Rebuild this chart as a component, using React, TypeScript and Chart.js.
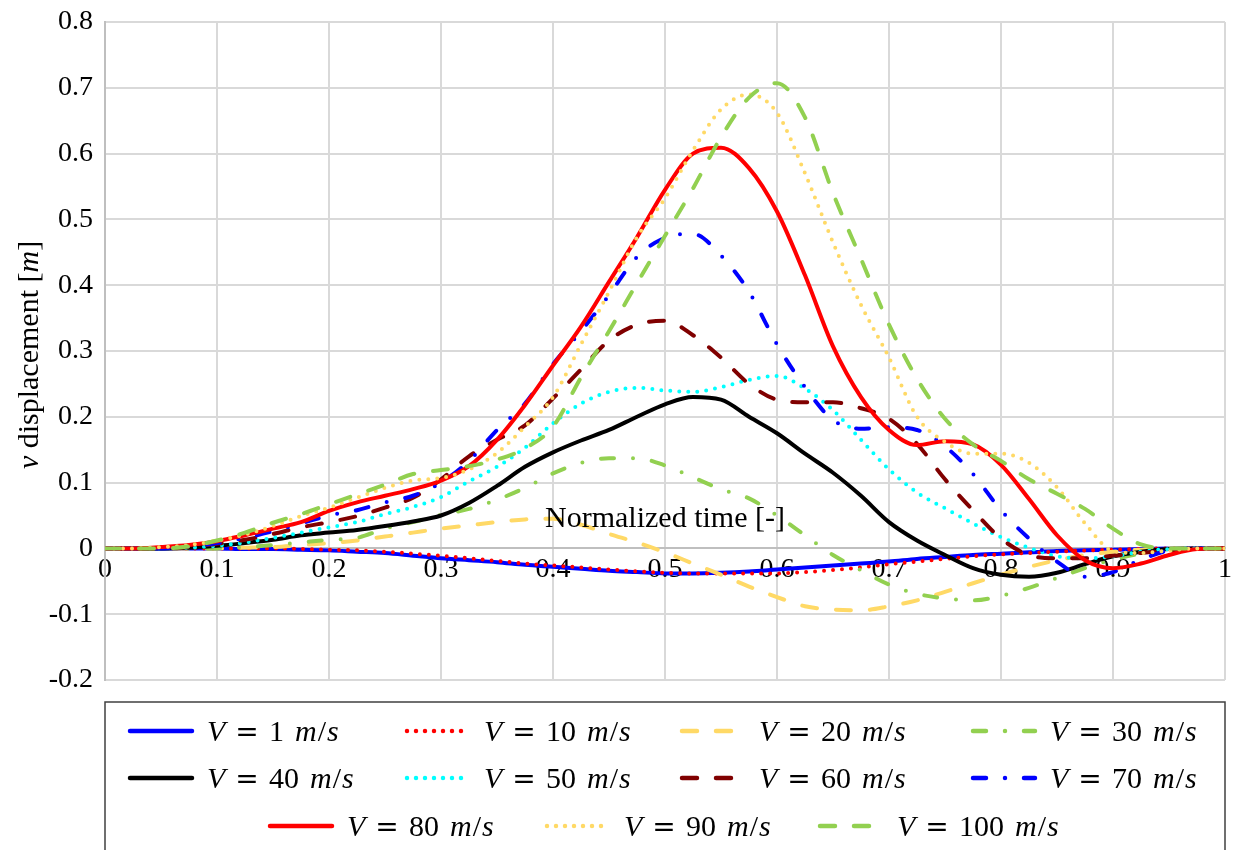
import React, { useEffect, useRef } from 'react';
import { Chart, registerables } from 'chart.js';

Chart.register(...registerables);

// ---------- data ----------
const TIME = [0, 0.025, 0.05, 0.075, 0.1, 0.125, 0.15, 0.175, 0.2, 0.225, 0.25, 0.275, 0.3, 0.325, 0.35, 0.375, 0.4, 0.425, 0.45, 0.475, 0.5, 0.525, 0.55, 0.575, 0.6, 0.625, 0.65, 0.675, 0.7, 0.725, 0.75, 0.775, 0.8, 0.825, 0.85, 0.875, 0.9, 0.925, 0.95, 0.975, 1];

const V_1 = [0, 0, 0, 0, 0, -0.001, -0.001, -0.002, -0.003, -0.005, -0.007, -0.011, -0.015, -0.018, -0.021, -0.025, -0.028, -0.031, -0.034, -0.036, -0.038, -0.038, -0.037, -0.035, -0.032, -0.029, -0.026, -0.023, -0.02, -0.016, -0.013, -0.01, -0.008, -0.006, -0.004, -0.003, -0.002, -0.001, 0, 0, 0];
const V_10 = [0, 0, 0, 0, 0, 0, 0, -0.001, -0.002, -0.003, -0.005, -0.008, -0.011, -0.015, -0.019, -0.023, -0.026, -0.029, -0.032, -0.035, -0.037, -0.038, -0.038, -0.038, -0.038, -0.036, -0.033, -0.029, -0.024, -0.02, -0.016, -0.012, -0.009, -0.007, -0.005, -0.003, -0.002, -0.001, 0, 0, 0];
const V_20 = [0, 0, 0, 0, 0, 0.001, 0.002, 0.005, 0.008, 0.012, 0.018, 0.024, 0.03, 0.035, 0.04, 0.044, 0.045, 0.036, 0.022, 0.009, -0.006, -0.023, -0.04, -0.058, -0.074, -0.088, -0.093, -0.094, -0.088, -0.079, -0.066, -0.053, -0.04, -0.028, -0.018, -0.01, -0.005, -0.002, 0, 0, 0];
const V_30 = [0, 0, 0, 0, 0, 0.002, 0.005, 0.009, 0.013, 0.016, 0.03, 0.04, 0.051, 0.06, 0.074, 0.092, 0.114, 0.13, 0.137, 0.137, 0.126, 0.108, 0.09, 0.076, 0.05, 0.02, -0.01, -0.033, -0.055, -0.069, -0.076, -0.079, -0.072, -0.06, -0.045, -0.03, -0.017, -0.008, -0.003, 0, 0];
const V_40 = [0, 0, 0, 0.001, 0.004, 0.008, 0.013, 0.02, 0.024, 0.028, 0.034, 0.041, 0.05, 0.069, 0.095, 0.124, 0.146, 0.164, 0.18, 0.2, 0.219, 0.23, 0.226, 0.2, 0.175, 0.144, 0.115, 0.08, 0.04, 0.012, -0.01, -0.03, -0.04, -0.043, -0.037, -0.024, -0.012, -0.005, -0.001, 0, 0];
const V_50 = [0, 0, 0, 0.001, 0.004, 0.009, 0.016, 0.024, 0.032, 0.04, 0.052, 0.063, 0.078, 0.102, 0.124, 0.153, 0.19, 0.22, 0.238, 0.244, 0.24, 0.238, 0.245, 0.256, 0.262, 0.243, 0.21, 0.165, 0.12, 0.085, 0.061, 0.038, 0.017, 0.001, -0.012, -0.015, -0.012, -0.005, -0.001, 0, 0];
const V_60 = [0, 0, 0, 0.002, 0.007, 0.013, 0.022, 0.032, 0.04, 0.049, 0.062, 0.077, 0.105, 0.14, 0.165, 0.187, 0.228, 0.272, 0.316, 0.34, 0.346, 0.324, 0.29, 0.25, 0.226, 0.222, 0.222, 0.213, 0.197, 0.159, 0.105, 0.058, 0.015, -0.01, -0.015, -0.015, -0.011, -0.007, -0.003, 0, 0];
const V_70 = [0, 0, 0, 0.003, 0.008, 0.016, 0.026, 0.038, 0.05, 0.058, 0.07, 0.08, 0.1, 0.133, 0.18, 0.22, 0.28, 0.33, 0.385, 0.443, 0.472, 0.478, 0.445, 0.39, 0.31, 0.245, 0.195, 0.182, 0.184, 0.18, 0.155, 0.113, 0.058, 0.015, -0.02, -0.043, -0.036, -0.017, -0.003, 0, 0];
const V_80 = [0, 0, 0.002, 0.005, 0.011, 0.02, 0.03, 0.04, 0.057, 0.07, 0.08, 0.09, 0.103, 0.125, 0.165, 0.218, 0.278, 0.337, 0.405, 0.473, 0.545, 0.6, 0.609, 0.578, 0.512, 0.415, 0.307, 0.23, 0.18, 0.157, 0.163, 0.158, 0.127, 0.075, 0.02, -0.018, -0.03, -0.023, -0.01, -0.001, 0];
const V_90 = [0, 0, 0.002, 0.005, 0.012, 0.021, 0.034, 0.049, 0.062, 0.077, 0.092, 0.103, 0.107, 0.12, 0.145, 0.185, 0.23, 0.31, 0.39, 0.473, 0.532, 0.605, 0.667, 0.69, 0.662, 0.57, 0.465, 0.37, 0.29, 0.2, 0.162, 0.144, 0.144, 0.13, 0.093, 0.038, -0.004, -0.007, -0.003, 0, 0];
const V_100 = [0, 0, 0, 0.003, 0.012, 0.024, 0.039, 0.052, 0.067, 0.082, 0.097, 0.113, 0.119, 0.125, 0.135, 0.152, 0.185, 0.26, 0.33, 0.403, 0.475, 0.547, 0.625, 0.685, 0.707, 0.655, 0.54, 0.44, 0.34, 0.258, 0.197, 0.158, 0.133, 0.105, 0.083, 0.06, 0.03, 0.006, 0, 0, 0];

const SPEEDS = [1, 10, 20, 30, 40, 50, 60, 70, 80, 90, 100];
const SERIES = [V_1, V_10, V_20, V_30, V_40, V_50, V_60, V_70, V_80, V_90, V_100];

const X_MIN = 0;
const X_MAX = 1;
const Y_MIN = -0.2;
const Y_MAX = 0.8;
const TICK_STEP = 0.1;

const X_TITLE = 'Normalized time [-]';

// ---------- styles ----------
const FONT = '"Liberation Serif", "Times New Roman", serif';
const FS = 28;
const TITLE_FS = 30;
const LEG_FS = 30;

const DASH: Record<string, number[]> = {
  solid: [],
  dotted: [0, 9],
  dashed: [15, 19],
  dashdot: [13, 19, 0, 19],
};

const STYLES = [
  { color: '#0000FF', dash: 'solid' },
  { color: '#FF0000', dash: 'dotted' },
  { color: '#FFD966', dash: 'dashed' },
  { color: '#92D050', dash: 'dashdot' },
  { color: '#000000', dash: 'solid' },
  { color: '#00FFFF', dash: 'dotted' },
  { color: '#800000', dash: 'dashed' },
  { color: '#0000FF', dash: 'dashdot' },
  { color: '#FF0000', dash: 'solid' },
  { color: '#FFD966', dash: 'dotted' },
  { color: '#92D050', dash: 'dashed' },
];

type Part = [string, boolean];

function partsWidth(ctx: CanvasRenderingContext2D, parts: Part[], size: number) {
  let w = 0;
  for (const [t, it] of parts) {
    ctx.font = `${it ? 'italic ' : ''}${size}px ${FONT}`;
    w += ctx.measureText(t).width;
  }
  return w;
}

function drawParts(ctx: CanvasRenderingContext2D, parts: Part[], x: number, y: number, size: number) {
  let cx = x;
  for (const [t, it] of parts) {
    ctx.font = `${it ? 'italic ' : ''}${size}px ${FONT}`;
    ctx.fillText(t, cx, y);
    cx += ctx.measureText(t).width;
  }
  return cx;
}

// math-style label "V = n m/s" with TeX-like spacing
function drawSpeedLabel(ctx: CanvasRenderingContext2D, s: number, x: number, y: number, size: number) {
  ctx.textAlign = 'left';
  ctx.font = `italic ${size}px ${FONT}`;
  ctx.fillText('V', x, y);
  ctx.font = `${size - 2}px "DejaVu Serif", ${FONT}`;
  ctx.textAlign = 'center';
  ctx.fillText('=', x + 40, y);
  ctx.textAlign = 'left';
  ctx.font = `${size}px ${FONT}`;
  const num = String(s);
  ctx.fillText(num, x + 62, y);
  let cx = x + 62 + ctx.measureText(num).width + 11;
  ctx.font = `italic ${size}px ${FONT}`;
  ctx.fillText('m', cx, y);
  cx += ctx.measureText('m').width + 1;
  ctx.font = `${size}px ${FONT}`;
  ctx.fillText('/', cx, y);
  cx += ctx.measureText('/').width + 1;
  ctx.font = `italic ${size}px ${FONT}`;
  ctx.fillText('s', cx, y);
}

const fmt = (v: number) => {
  const r = Math.round(v * 10) / 10;
  return r === 0 ? '0' : String(r);
};

const overlayPlugin = {
  id: 'overlay',
  afterDraw(chart: any) {
    const ctx: CanvasRenderingContext2D = chart.ctx;
    const area = chart.chartArea;
    const yScale = chart.scales.y;
    ctx.save();
    ctx.fillStyle = '#000';
    ctx.textBaseline = 'alphabetic';
    ctx.textAlign = 'left';

    // x-axis title, above the zero line
    const y0 = yScale.getPixelForValue(0);
    ctx.font = `${TITLE_FS}px ${FONT}`;
    const xw = ctx.measureText(X_TITLE).width;
    ctx.fillText(X_TITLE, (area.left + area.right) / 2 - xw / 2, y0 - 21);

    // y-axis title, rotated
    const yParts: Part[] = [['v', true], [' displacement [', false], ['m', true], [']', false]];
    const yw = partsWidth(ctx, yParts, TITLE_FS);
    ctx.save();
    ctx.translate(38, (area.top + area.bottom) / 2 + 4);
    ctx.rotate(-Math.PI / 2);
    drawParts(ctx, yParts, -yw / 2, 0, TITLE_FS);
    ctx.restore();

    // legend box
    ctx.strokeStyle = '#404040';
    ctx.lineWidth = 1.5;
    ctx.beginPath();
    ctx.moveTo(area.left, 860);
    ctx.lineTo(area.left, 702);
    ctx.lineTo(area.right, 702);
    ctx.lineTo(area.right, 860);
    ctx.stroke();

    const rows = [
      { y: 731, xs: [128, 405, 680, 971], idx: [0, 1, 2, 3] },
      { y: 778, xs: [128, 405, 680, 971], idx: [4, 5, 6, 7] },
      { y: 826, xs: [268, 545, 818], idx: [8, 9, 10] },
    ];
    for (const row of rows) {
      row.idx.forEach((di, k) => {
        const x0 = row.xs[k];
        const st = STYLES[di];
        ctx.save();
        ctx.strokeStyle = st.color;
        ctx.lineWidth = 4.5;
        ctx.lineCap = 'round';
        ctx.setLineDash(DASH[st.dash]);
        ctx.beginPath();
        ctx.moveTo(x0 + 2, row.y);
        ctx.lineTo(x0 + 64, row.y);
        ctx.stroke();
        ctx.restore();
        drawSpeedLabel(ctx, SPEEDS[di], x0 + 79, row.y + 10, LEG_FS);
      });
    }
    ctx.restore();
  },
};

export default function App() {
  const ref = useRef<HTMLCanvasElement | null>(null);

  useEffect(() => {
    if (!ref.current) return;
    const datasets = SERIES.map((vals, i) => ({
      label: 'V = ' + SPEEDS[i] + ' m/s',
      data: vals.map((v, j) => ({ x: TIME[j], y: v })),
      borderColor: STYLES[i].color,
      backgroundColor: STYLES[i].color,
      borderWidth: 4,
      borderDash: DASH[STYLES[i].dash],
      borderCapStyle: 'round' as const,
      borderJoinStyle: 'round' as const,
      pointRadius: 0,
      fill: false,
      cubicInterpolationMode: 'monotone' as const,
      order: SERIES.length - i,
    }));

    const tickFont = { family: FONT, size: FS };
    const chart = new Chart(ref.current, {
      type: 'line',
      data: { datasets },
      plugins: [overlayPlugin],
      options: {
        animation: false,
        responsive: false,
        layout: { padding: { top: 22, right: 8, bottom: 170, left: 0 } },
        plugins: { legend: { display: false }, tooltip: { enabled: false } },
        scales: {
          x: {
            type: 'linear',
            min: X_MIN,
            max: X_MAX,
            position: { y: 0 } as any,
            ticks: {
              stepSize: TICK_STEP,
              font: tickFont,
              color: '#000',
              padding: 4,
              maxRotation: 0,
              autoSkip: false,
              callback: (v: any) => fmt(Number(v)),
            },
            grid: { color: '#d9d9d9', lineWidth: 2, drawTicks: false },
            border: { color: '#bfbfbf', width: 2 },
            afterFit: (s: any) => {
              s.paddingLeft = 0;
              s.paddingRight = 0;
            },
          },
          y: {
            type: 'linear',
            min: Y_MIN,
            max: Y_MAX,
            ticks: {
              stepSize: TICK_STEP,
              font: tickFont,
              color: '#000',
              padding: 12,
              autoSkip: false,
              callback: (v: any) => fmt(Number(v)),
            },
            grid: { color: '#d9d9d9', lineWidth: 2, drawTicks: false },
            border: { color: '#bfbfbf', width: 2 },
            afterFit: (s: any) => {
              s.width = 105;
              s.paddingTop = 0;
              s.paddingBottom = 0;
            },
          },
        },
      },
    });
    return () => chart.destroy();
  }, []);

  return (
    <div style={{ position: 'absolute', left: 0, top: 0, width: 1233, height: 850, background: '#fff' }}>
      <canvas ref={ref} width={1233} height={850} style={{ display: 'block' }} />
    </div>
  );
}
